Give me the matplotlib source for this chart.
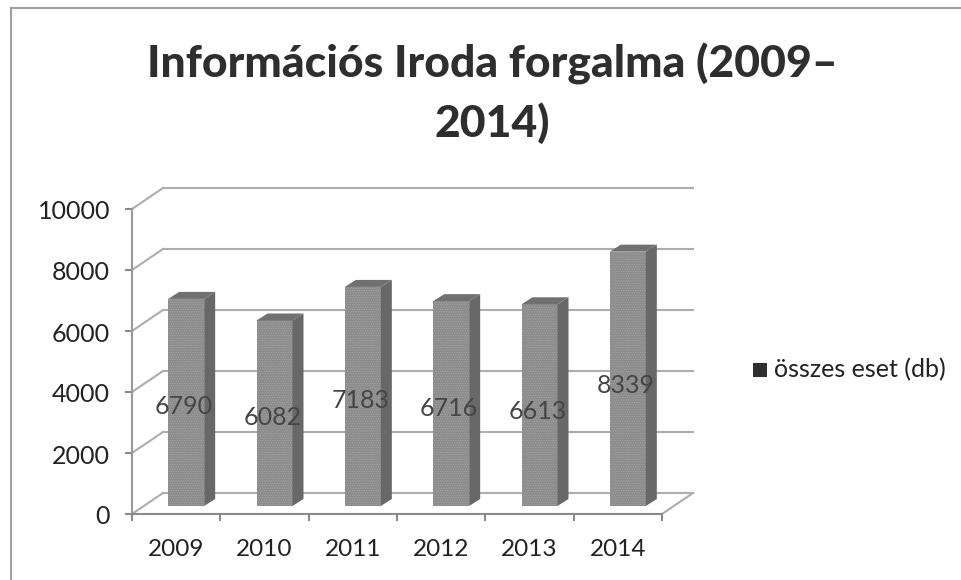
import matplotlib
matplotlib.use('Agg')
import matplotlib.pyplot as plt
from matplotlib.patches import Polygon, Rectangle
from matplotlib.lines import Line2D

years = ['2009', '2010', '2011', '2012', '2013', '2014']
cases = [6790, 6082, 7183, 6716, 6613, 8339]
yticks = [0, 2000, 4000, 6000, 8000, 10000]
# label heights as they sit in the picture, not tied to the bar tops
label_y = [3530, 3170, 3730, 3470, 3370, 4220]

W, H = 962, 580
plt.rcParams['font.family'] = ['Lato', 'DejaVu Sans']
plt.rcParams['hatch.linewidth'] = 0.4

fig = plt.figure(figsize=(W / 100, H / 100), dpi=100)
fig.patch.set_facecolor('white')

# plot box in pixels of the picture: front floor edge and front axis
x0, x1, ybot, ytop = 132, 662, 514, 209
ax = fig.add_axes([x0 / W, 1 - ybot / H, (x1 - x0) / W, (ybot - ytop) / H])
ax.set_xlim(0, 6)
ax.set_ylim(0, 10000)
ax.axis('off')

# depth of the fake 3d box, in data units
px_x = 6 / (x1 - x0)
px_y = 10000 / (ybot - ytop)
depth_x = 31 * px_x
depth_y = 21 * px_y

grid = '#adadad'
for v in yticks:
    ax.plot([0, depth_x], [v, v + depth_y], color=grid, lw=1.5, clip_on=False)
    ax.plot([depth_x, 6 + depth_x], [v + depth_y, v + depth_y], color=grid, lw=1.5, clip_on=False)
    ax.plot([-6 * px_x, 0], [v, v], color='#8a8a8a', lw=1.5, clip_on=False)
    ax.text(-22 * px_x, v - 3 * px_y, str(v), ha='right', va='center',
            fontsize=18, color='#222222', clip_on=False)

# floor and axes
ax.plot([0, 6], [0, 0], color='#8a8a8a', lw=1.5, clip_on=False)
ax.plot([0, 0], [0, 10000], color='#9a9a9a', lw=1.5, clip_on=False)
ax.plot([6, 6 + depth_x], [0, depth_y], color=grid, lw=1.5, clip_on=False)
for i in range(7):
    ax.plot([i, i], [0, -6 * px_y], color='#8a8a8a', lw=1.5, clip_on=False)
for i, y in enumerate(years):
    ax.text(i + 0.5, -35 * px_y, y, ha='center', va='center', fontsize=17.5,
            color='#222222', clip_on=False)

# bars
off_x = 10 * px_x
off_y = 8 * px_y
bw = 36 * px_x
sx = 11 * px_x
sy = 7 * px_y
for i, v in enumerate(cases):
    l = i + 0.5 + off_x - bw / 2
    r = l + bw
    ax.bar(l, v, width=bw, bottom=off_y, align='edge', color='#8c8c8c', edgecolor='#a6a6a6',
           linewidth=0, hatch='.......', zorder=3, clip_on=False)
    ax.add_patch(Polygon([(r, off_y), (r + sx, off_y + sy), (r + sx, off_y + v + sy), (r, off_y + v)],
                         fc='#686868', ec='none', zorder=3, clip_on=False))
    ax.add_patch(Polygon([(l, off_y + v), (l + sx, off_y + v + sy), (r + sx, off_y + v + sy), (r, off_y + v)],
                         fc='#707070', ec='none', zorder=3, clip_on=False))
    ax.text(i + 0.5 + 8 * px_x, label_y[i], str(v), ha='center', va='center', fontsize=18,
            color='#454545', zorder=4, clip_on=False)

# title, legend, frame in figure pixels
fig.text(492 / W, 1 - 64 / H, 'Információs Iroda forgalma (2009–', ha='center', va='center',
         fontsize=32, fontweight='black', color='#2e2e2e')
fig.text(492 / W, 1 - 123 / H, '2014)', ha='center', va='center',
         fontsize=32, fontweight='black', color='#2e2e2e')
fig.add_artist(Rectangle((753 / W, 1 - 377 / H), 14 / W, 14 / H, transform=fig.transFigure,
                         fc='#2f2f2f', ec='none'))
fig.text(774 / W, 1 - 370 / H, 'összes eset (db)', ha='left', va='center', fontsize=18, color='#222222')

frame = '#a0a0a0'
fig.add_artist(Line2D([11 / W, 11 / W], [0, 1 - 8 / H], transform=fig.transFigure, color=frame, lw=1.5))
fig.add_artist(Line2D([11 / W, 1], [1 - 8 / H, 1 - 8 / H], transform=fig.transFigure, color=frame, lw=1.5))

fig.savefig('out.png', dpi=100)
